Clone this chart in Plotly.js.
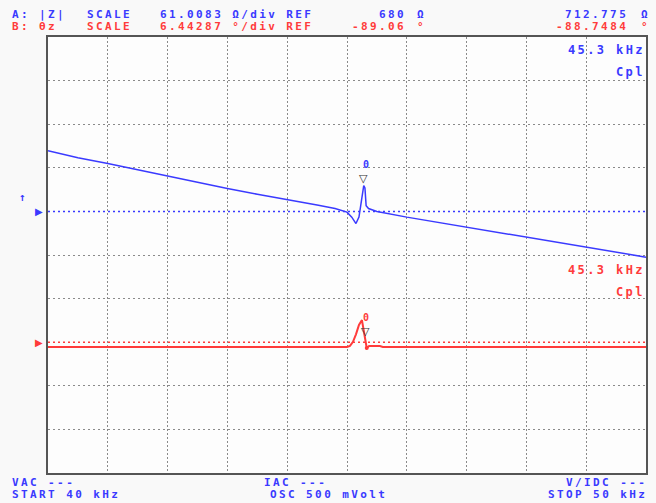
<!DOCTYPE html>
<html>
<head>
<meta charset="utf-8">
<script src="https://cdn.plot.ly/plotly-3.0.1.min.js"></script>
<style>
  html, body { margin: 0; padding: 0; background: #f9f9f9; }
  #chart { width: 656px; height: 503px; }
  .annotation-text { letter-spacing: 2.4px; }
</style>
</head>
<body>
<div id="chart"></div>
<script>
// Sweep: 40 kHz to 50 kHz, 1 kHz per division
const sweepStartKHz = 40;
const sweepStopKHz = 50;

// Trace A: impedance magnitude |Z| (ohm)
const zFreqKHz = [40.0, 40.5, 41.0, 41.5, 42.0, 42.5, 43.0, 43.5, 44.0, 44.5, 44.8, 45.0, 45.08, 45.15, 45.2, 45.25, 45.28, 45.3, 45.32, 45.36, 45.5, 46.0, 46.5, 47.0, 47.5, 48.0, 48.5, 49.0, 49.5, 50.0];
const zOhm =     [765, 755, 747, 738, 729, 720, 712, 704, 697, 689, 684, 679, 672, 663, 672, 700, 716, 712.775, 688, 684, 680, 672, 665, 658, 651, 644, 637, 630, 623, 616];

// Trace B: impedance phase θz (degrees)
const thFreqKHz = [40.0, 45.0, 45.05, 45.1, 45.15, 45.2, 45.25, 45.3, 45.33, 45.37, 45.55, 45.6, 50.0];
const thDeg =     [-89.77, -89.77, -89.6, -89.0, -87.9, -86.5, -85.8, -88.7484, -89.92, -89.63, -89.63, -89.77, -89.77];

// Marker 0 readout
const markerKHz = 45.3;
const markerOhm = 712.775;
const markerDeg = -88.7484;

// Display scales and reference levels
const zScale = 61.0083, zRef = 680, zRefDiv = 6;       // ref line 6 div above bottom
const thScale = 6.44287, thRef = -89.06, thRefDiv = 3;  // ref line 3 div above bottom
const nDiv = 10;

const BLUE = '#3a3aff';
const RED = '#ff3b3b';
const FONT = 'DejaVu Sans Mono, Liberation Mono, monospace';

const zMin = zRef - zRefDiv * zScale;
const zMax = zMin + nDiv * zScale;
const thMin = thRef - thRefDiv * thScale;
const thMax = thMin + nDiv * thScale;

// horizontal grid: every division except the two reference lines
const gridVals = [];
for (let k = 1; k < nDiv; k++) {
  if (k !== zRefDiv && k !== thRefDiv) gridVals.push(zMin + k * zScale);
}

// plot frame in pixels (for placing the readout texts)
const M = {l: 48, r: 10, t: 37, b: 30};
const W = 656, H = 503;
const pw = W - M.l - M.r, ph = H - M.t - M.b;
const px = x => (x - M.l) / pw;
const py = y => (H - M.b - y) / ph;

function txt(s, x, y, color, anchor, size, bold) {
  return {
    text: s, xref: 'paper', yref: 'paper', x: px(x), y: py(y),
    xanchor: anchor || 'left', yanchor: 'middle', showarrow: false,
    font: {family: FONT, size: size || 11, color: color, weight: bold === false ? 'normal' : 'bold'}
  };
}

const traces = [
  {x: zFreqKHz, y: zOhm, mode: 'lines', line: {color: BLUE, width: 1.5}, yaxis: 'y', hoverinfo: 'skip'},
  {x: thFreqKHz, y: thDeg, mode: 'lines', line: {color: RED, width: 2}, yaxis: 'y2', hoverinfo: 'skip'},
  {x: [thFreqKHz[8]], y: [thDeg[8]], mode: 'markers', marker: {color: RED, size: 4}, yaxis: 'y2', hoverinfo: 'skip'}
];

const annotations = [
  // header
  txt('A: |Z|', 10, 15, BLUE),
  txt('SCALE', 85, 15, BLUE),
  txt(zScale.toFixed(4) + ' Ω/div REF', 158, 15, BLUE),
  txt(String(zRef), 408, 15, BLUE, 'right'),
  txt('Ω', 415, 15, BLUE),
  txt(String(markerOhm), 630, 15, BLUE, 'right'),
  txt('Ω', 639, 15, BLUE),
  txt('B: θz', 10, 26, RED),
  txt('SCALE', 85, 26, RED),
  txt(thScale.toFixed(5) + ' °/div REF', 158, 26, RED),
  txt(thRef.toFixed(2), 408, 26, RED, 'right'),
  txt('°', 415, 26, RED),
  txt(String(markerDeg), 630, 26, RED, 'right'),
  txt('°', 639, 26, RED),
  // footer
  txt('VAC ---', 10, 482, BLUE),
  txt('START ' + sweepStartKHz + ' kHz', 10, 494, BLUE),
  txt('IAC ---', 262, 482, BLUE),
  txt('OSC 500 mVolt', 268, 494, BLUE),
  txt('V/IDC ---', 649, 482, BLUE, 'right'),
  txt('STOP ' + sweepStopKHz + ' kHz', 649, 494, BLUE, 'right'),
  // marker readouts
  txt(markerKHz + ' kHz', 647, 50, BLUE, 'right', 12),
  txt('Cpl', 647, 72, BLUE, 'right', 12),
  txt(markerKHz + ' kHz', 647, 270, RED, 'right', 12),
  txt('Cpl', 647, 292, RED, 'right', 12),
  // left-edge reference pointers
  {text: '▶', xref: 'paper', yref: 'y', x: 0, y: zRef, xanchor: 'right', yanchor: 'middle', showarrow: false, xshift: -1,
   font: {family: 'DejaVu Sans', size: 10, color: BLUE}},
  {text: '▶', xref: 'paper', yref: 'y2', x: 0, y: thRef, xanchor: 'right', yanchor: 'middle', showarrow: false, xshift: -1,
   font: {family: 'DejaVu Sans', size: 10, color: RED}},
  txt('↑', 23, 197, BLUE, 'center', 11),
  // marker 0 symbols
  {text: '▽', xref: 'x', yref: 'y', x: markerKHz, y: markerOhm, xanchor: 'center', yanchor: 'bottom', showarrow: false, yshift: 1,
   font: {family: 'DejaVu Sans', size: 11, color: '#333'}},
  {text: '0', xref: 'x', yref: 'y', x: markerKHz, y: markerOhm, xanchor: 'center', yanchor: 'bottom', showarrow: false, yshift: 16, xshift: 2,
   font: {family: FONT, size: 10, color: BLUE, weight: 'bold'}},
  {text: '▽', xref: 'x', yref: 'y2', x: markerKHz, y: markerDeg, xanchor: 'center', yanchor: 'bottom', showarrow: false, yshift: 0, xshift: 2,
   font: {family: 'DejaVu Sans', size: 11, color: '#333'}},
  {text: '0', xref: 'x', yref: 'y2', x: markerKHz, y: markerDeg, xanchor: 'center', yanchor: 'bottom', showarrow: false, yshift: 15, xshift: 2,
   font: {family: FONT, size: 10, color: RED, weight: 'bold'}}
];

const layout = {
  width: W, height: H,
  margin: M,
  paper_bgcolor: '#f9f9f9',
  plot_bgcolor: '#fdfdfd',
  showlegend: false,
  xaxis: {
    range: [sweepStartKHz, sweepStopKHz], dtick: 1, tick0: sweepStartKHz,
    showticklabels: false, ticks: '', zeroline: false,
    showgrid: true, gridcolor: '#8a8a8a', gridwidth: 1, griddash: '2px,2px',
    showline: true, mirror: true, linecolor: '#555', linewidth: 2
  },
  yaxis: {
    range: [zMin, zMax], tickmode: 'array', tickvals: gridVals,
    showticklabels: false, ticks: '', zeroline: false,
    showgrid: true, gridcolor: '#8a8a8a', gridwidth: 1, griddash: '2px,3px',
    showline: true, mirror: true, linecolor: '#555', linewidth: 2
  },
  yaxis2: {
    range: [thMin, thMax], overlaying: 'y', side: 'right',
    showticklabels: false, ticks: '', zeroline: false, showgrid: false, showline: false
  },
  shapes: [
    {type: 'line', xref: 'paper', x0: 0, x1: 1, yref: 'y', y0: zRef, y1: zRef,
     line: {color: BLUE, width: 1.5, dash: '2px,3px'}, layer: 'below'},
    {type: 'line', xref: 'paper', x0: 0, x1: 1, yref: 'y2', y0: thRef, y1: thRef,
     line: {color: RED, width: 1.5, dash: '2px,3px'}, layer: 'below'}
  ],
  annotations: annotations
};

Plotly.newPlot('chart', traces, layout, {staticPlot: true, displayModeBar: false});
</script>
</body>
</html>
